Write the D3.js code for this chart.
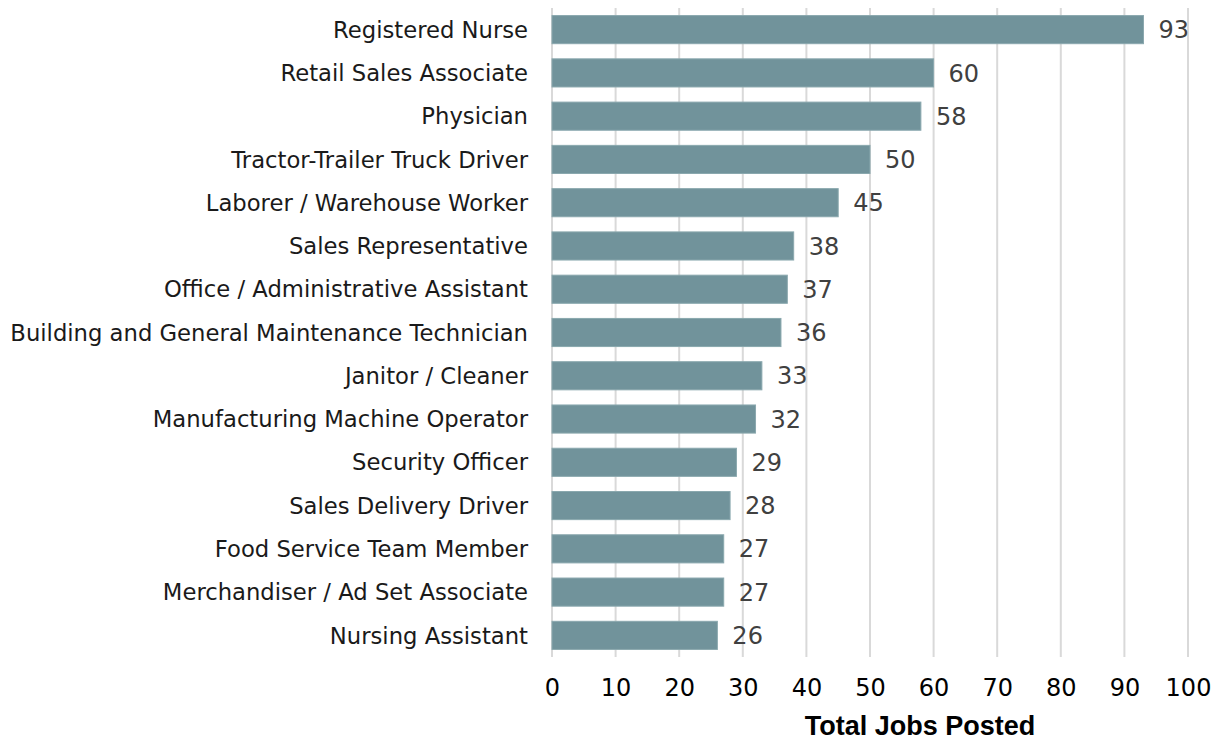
<!DOCTYPE html>
<meta charset="utf-8">
<style>
body { margin: 0; background: #fff; }
svg text { font-family: "DejaVu Sans", sans-serif; }
.grid line { stroke: #d9d9d9; stroke-width: 2; }
.cat { font-size: 22.7px; fill: #1a1a1a; }
.val { font-size: 24px; fill: #404040; }
.tick text { font-size: 24px; fill: #000; }
.title { font-size: 27px; font-weight: bold; fill: #000; font-family: "Liberation Sans", Arial, sans-serif !important; }
</style>
<body>
<svg width="1217" height="741"></svg>
<script src="https://d3js.org/d3.v7.min.js"></script>
<script>

var jobs = ["Registered Nurse", "Retail Sales Associate", "Physician",
    "Tractor-Trailer Truck Driver", "Laborer / Warehouse Worker",
    "Sales Representative", "Office / Administrative Assistant",
    "Building and General Maintenance Technician", "Janitor / Cleaner",
    "Manufacturing Machine Operator", "Security Officer",
    "Sales Delivery Driver", "Food Service Team Member",
    "Merchandiser / Ad Set Associate", "Nursing Assistant"];
var posted = [93, 60, 58, 50, 45, 38, 37, 36, 33, 32, 29, 28, 27, 27, 26];
var xTicks = [0, 10, 20, 30, 40, 50, 60, 70, 80, 90, 100];
var axisTitle = "Total Jobs Posted";

var svg = d3.select("svg");

var x = d3.scaleLinear()
    .domain([0, 100])
    .range([552, 1188]);

var y = d3.scaleBand()
    .domain(jobs)
    .range([8, 657])
    .paddingInner(0.35)
    .paddingOuter(0.175);

// vertical gridlines
svg.append("g")
    .attr("class", "grid")
  .selectAll("line")
    .data(xTicks)
  .enter().append("line")
    .attr("x1", function(d) { return x(d); })
    .attr("x2", function(d) { return x(d); })
    .attr("y1", 8)
    .attr("y2", 657);

svg.append("g")
  .selectAll("rect")
    .data(posted)
  .enter().append("rect")
    .attr("x", x(0))
    .attr("y", function(d, i) { return y(jobs[i]); })
    .attr("width", function(d) { return x(d) - x(0); })
    .attr("height", y.bandwidth())
    .attr("fill", "#71939b")
    .attr("stroke", "#8aa8ae")
    .attr("stroke-width", 1);

svg.append("g")
  .selectAll("text")
    .data(posted)
  .enter().append("text")
    .attr("class", "val")
    .attr("x", function(d) { return x(d) + 15; })
    .attr("y", function(d, i) { return y(jobs[i]) + y.bandwidth() / 2; })
    .attr("dy", "0.36em")
    .text(function(d) { return d; });

svg.append("g")
  .selectAll("text")
    .data(jobs)
  .enter().append("text")
    .attr("class", "cat")
    .attr("x", 528)
    .attr("y", function(d) { return y(d) + y.bandwidth() / 2; })
    .attr("dy", "0.36em")
    .attr("text-anchor", "end")
    .text(function(d) { return d; });

var xAxis = svg.append("g")
    .attr("transform", "translate(0,657)")
    .call(d3.axisBottom(x).tickValues(xTicks).tickSize(0).tickPadding(22));
xAxis.select(".domain").remove();
xAxis.selectAll("text").attr("font-family", null);

svg.append("text")
    .attr("class", "title")
    .attr("x", 920)
    .attr("y", 735)
    .attr("text-anchor", "middle")
    .text(axisTitle);

</script>
</body>
